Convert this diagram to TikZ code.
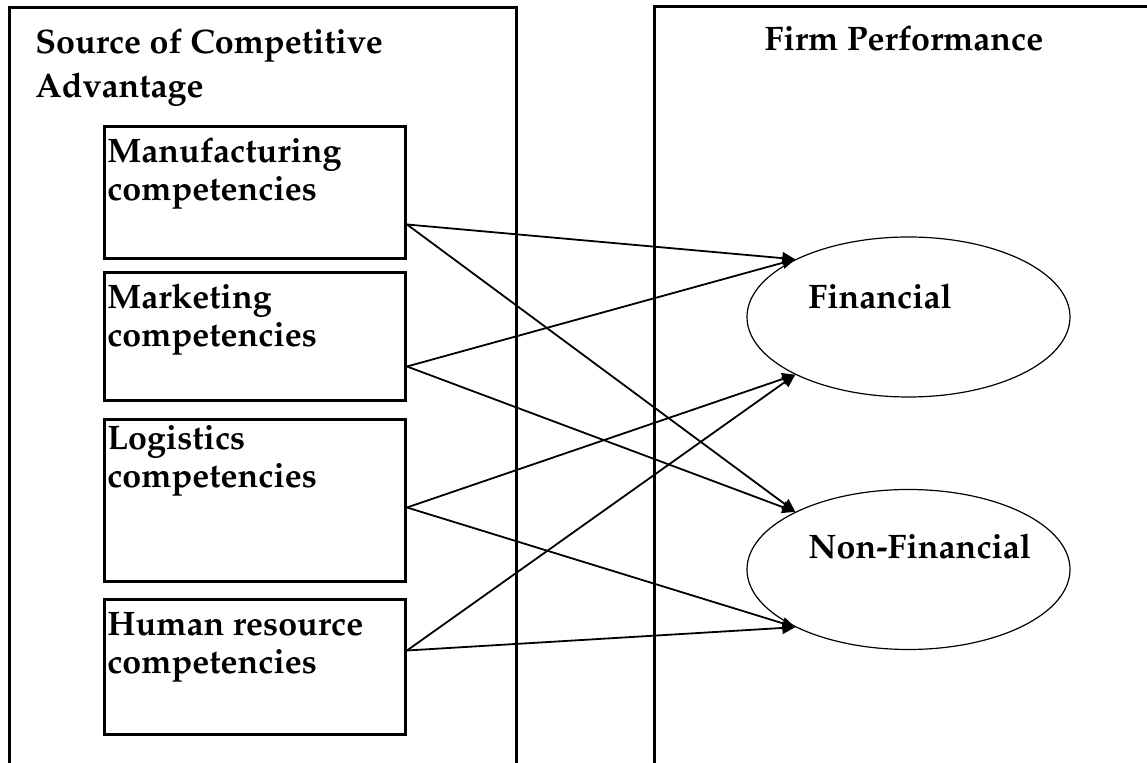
\documentclass[tikz,border=0pt]{standalone}
\usepackage[T1]{fontenc}
\usepackage{palatino}
\usetikzlibrary{shapes.geometric, arrows.meta, positioning}

\begin{document}
\begin{tikzpicture}[
    x=0.5pt, y=-0.5pt,
    panel/.style={line width=1.5pt},
    title/.style={font=\bfseries\fontsize{17}{22}\selectfont, inner sep=0pt, align=left},
    compbox/.style={draw, line width=1.5pt, anchor=north west, minimum width=150.5pt, inner sep=0pt},
    comptext/.style={font=\bfseries\fontsize{17}{19}\selectfont, anchor=north west, inner sep=0pt, align=left},
    perf/.style={draw, ellipse, line width=0.6pt, minimum width=161.5pt, minimum height=80pt, inner sep=0pt},
    perftext/.style={font=\bfseries\fontsize{17}{19}\selectfont, anchor=base west, inner sep=0pt},
    arrow/.style={-{Triangle[length=6.5pt, width=6pt]}, line width=0.9pt}
]
    \useasboundingbox (0,0) rectangle (1147,763);

    % Panels
    \draw[panel] (9,763) |- (516,8) -- (516,763);
    \draw[panel] (654,763) |- (1147,7);

    % Titles
    \node[title, anchor=north west] (source) at (35,22) {\strut Source of Competitive\\Advantage};
    \node[title, anchor=base] (firm) at (904,51) {Firm Performance};

    % Competencies
    \node[compbox, minimum height=66pt] (manuf) at (103,125) {};
    \node[compbox, minimum height=64pt] (mark) at (103,271) {};
    \node[compbox, minimum height=81pt] (logis) at (103,418) {};
    \node[compbox, minimum height=67.5pt] (human) at (103,598) {};

    \node[comptext] (manuftext) at (107,135.5) {\strut Manufacturing\\competencies};
    \node[comptext] (marktext) at (107,281.5) {\strut Marketing\\competencies};
    \node[comptext] (logistext) at (107,422.5) {\strut Logistics\\competencies};
    \node[comptext] (humantext) at (107,608.5) {\strut Human resource\\competencies};

    % Performance
    \node[perf] (fin) at (908.5,317) {};
    \node[perf] (nonfin) at (908.5,569.5) {};
    \node[perftext] (fintext) at (808,309) {Financial};
    \node[perftext] (nonfintext) at (808,559) {Non-Financial};

    % Arrows
    \draw[arrow] ([yshift=-16pt]manuf.east) -- (fin.153);
    \draw[arrow] ([yshift=-16pt]manuf.east) -- (nonfin.153);
    \draw[arrow] ([yshift=-15pt]mark.east) -- (fin.153);
    \draw[arrow] ([yshift=-15pt]mark.east) -- (nonfin.153);
    \draw[arrow] ([yshift=-3.5pt]logis.east) -- (fin.207);
    \draw[arrow] ([yshift=-3.5pt]logis.east) -- (nonfin.207);
    \draw[arrow] ([yshift=8.25pt]human.east) -- (fin.207);
    \draw[arrow] ([yshift=8.25pt]human.east) -- (nonfin.207);
\end{tikzpicture}
\end{document}
